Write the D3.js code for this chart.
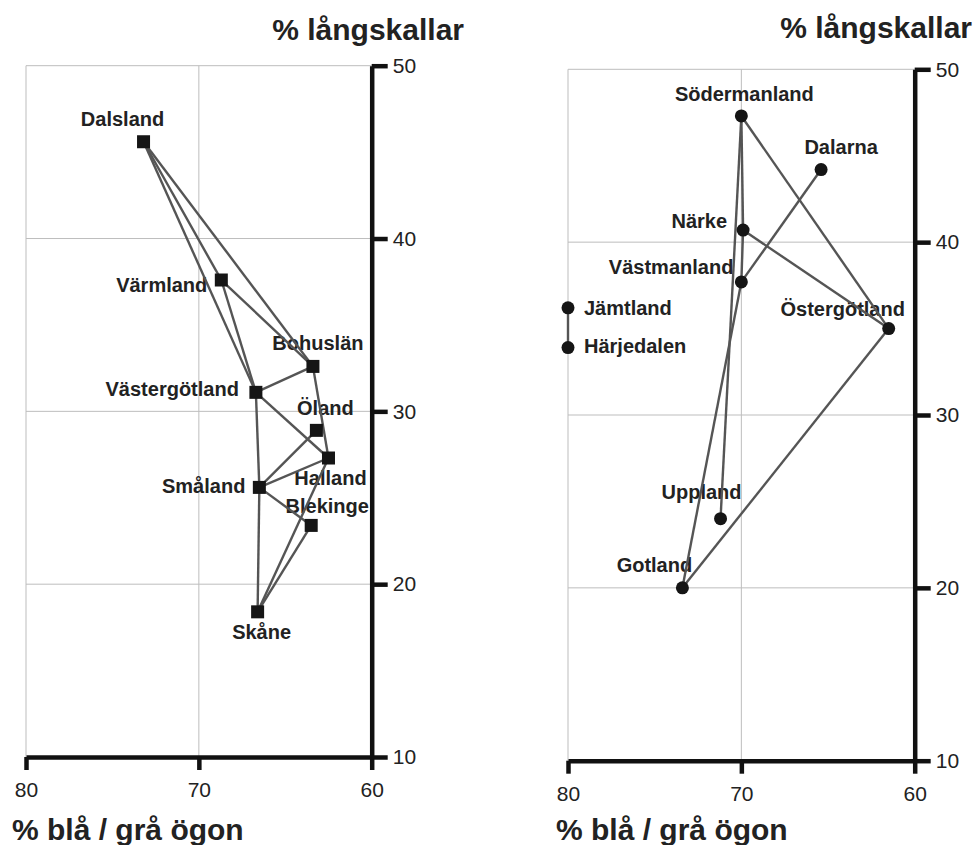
<!DOCTYPE html>
<html>
<head>
<meta charset="utf-8">
<script src="https://cdn.jsdelivr.net/npm/d3@7"></script>
<style>
  body { margin: 0; background: #fff; }
  svg { font-family: "Liberation Sans", Arial, sans-serif; }
  .grid line { stroke: #bdbdbd; stroke-width: 1; }
  .axis path, .axis line { stroke: #111; stroke-width: 4.5; }
  .axis text { font-family: "Liberation Sans", Arial, sans-serif; font-size: 21px; fill: #222; }
  .link { stroke: #555; stroke-width: 2.4; fill: none; }
  .mark { fill: #151515; }
  .lbl { font-size: 20px; font-weight: bold; fill: #222; }
  .title { font-size: 30px; font-weight: bold; fill: #222; }
</style>
</head>
<body>
<svg id="chart" width="976" height="845"></svg>
<script>
// x = % blå / grå ögon, y = % långskallar
var xTicks = [80, 70, 60];
var yTicks = [50, 40, 30, 20, 10];
var gridX = [80, 70];
var gridY = [50, 40, 30, 20];

var leftNames = ["Dalsland", "Värmland", "Bohuslän", "Västergötland", "Öland", "Halland", "Småland", "Blekinge", "Skåne"];
var leftBlue  = [73.2, 68.7, 63.4, 66.7, 63.2, 62.5, 66.5, 63.5, 66.6];
var leftLong  = [45.6, 37.6, 32.6, 31.1, 28.9, 27.3, 25.6, 23.4, 18.4];
var leftLinks = [
  ["Dalsland", "Värmland"], ["Dalsland", "Västergötland"], ["Dalsland", "Bohuslän"],
  ["Värmland", "Bohuslän"], ["Värmland", "Västergötland"],
  ["Västergötland", "Bohuslän"], ["Västergötland", "Halland"], ["Västergötland", "Småland"],
  ["Bohuslän", "Halland"],
  ["Småland", "Öland"], ["Småland", "Halland"], ["Småland", "Blekinge"], ["Småland", "Skåne"],
  ["Halland", "Skåne"], ["Blekinge", "Skåne"]
];

var rightNames = ["Södermanland", "Dalarna", "Närke", "Västmanland", "Jämtland", "Härjedalen", "Östergötland", "Uppland", "Gotland"];
var rightBlue  = [70.0, 65.4, 69.9, 70.0, 80.0, 80.0, 61.5, 71.2, 73.4];
var rightLong  = [47.3, 44.2, 40.7, 37.7, 36.2, 33.9, 35.0, 24.0, 20.0];
var rightLinks = [
  ["Södermanland", "Östergötland"], ["Södermanland", "Uppland"], ["Södermanland", "Närke"],
  ["Närke", "Västmanland"], ["Närke", "Östergötland"],
  ["Västmanland", "Dalarna"], ["Västmanland", "Gotland"],
  ["Östergötland", "Gotland"], ["Jämtland", "Härjedalen"]
];

// label placement, pixel offsets from the marker (anchor, dx, dy)
var labelPos = {
  "Dalsland": ["middle", -21, -16], "Värmland": ["end", -14, 12], "Bohuslän": ["middle", 5, -16],
  "Västergötland": ["end", -17, 4], "Öland": ["middle", 9, -15], "Halland": ["middle", 2, 27],
  "Småland": ["end", -14, 6], "Blekinge": ["middle", 16, -12], "Skåne": ["middle", 4, 27],
  "Södermanland": ["middle", 3, -15], "Dalarna": ["middle", 20, -16], "Närke": ["end", -16, -2],
  "Västmanland": ["end", -8, -8], "Jämtland": ["start", 16, 7], "Härjedalen": ["start", 16, 5],
  "Östergötland": ["middle", -46, -13], "Uppland": ["middle", -19, -20], "Gotland": ["middle", -28, -16]
};

var svg = d3.select("#chart");

function drawPanel(cfg) {
  var x = d3.scaleLinear().domain([80, 60]).range([cfg.x0, cfg.x1]),
      y = d3.scaleLinear().domain([10, 50]).range([cfg.y0, cfg.y1]);
  var g = svg.append("g");

  var pts = {};
  cfg.names.forEach(function(n, i) { pts[n] = {name: n, bx: cfg.blue[i], ly: cfg.long[i]}; });
  var data = cfg.names.map(function(n) { return pts[n]; });

  var grid = g.append("g").attr("class", "grid");
  grid.selectAll(".gx").data(gridX).enter().append("line")
      .attr("x1", function(d) { return x(d); }).attr("x2", function(d) { return x(d); })
      .attr("y1", y(50)).attr("y2", y(10));
  grid.selectAll(".gy").data(gridY).enter().append("line")
      .attr("y1", function(d) { return y(d); }).attr("y2", function(d) { return y(d); })
      .attr("x1", x(80)).attr("x2", x(60));

  g.append("g")
      .attr("class", "axis")
      .attr("transform", "translate(0," + y(10) + ")")
      .call(d3.axisBottom(x).tickValues(xTicks).tickSize(13).tickSizeOuter(0).tickPadding(12));

  g.append("g")
      .attr("class", "axis")
      .attr("transform", "translate(" + x(60) + ",0)")
      .call(d3.axisRight(y).tickValues(yTicks).tickSize(16).tickSizeOuter(0).tickPadding(5));

  g.selectAll(".lbl").data(data).enter().append("text")
      .attr("class", "lbl")
      .attr("text-anchor", function(d) { return labelPos[d.name][0]; })
      .attr("x", function(d) { return x(d.bx) + labelPos[d.name][1]; })
      .attr("y", function(d) { return y(d.ly) + labelPos[d.name][2]; })
      .text(function(d) { return d.name; });

  g.selectAll(".link").data(cfg.links).enter().append("line")
      .attr("class", "link")
      .attr("x1", function(d) { return x(pts[d[0]].bx); })
      .attr("y1", function(d) { return y(pts[d[0]].ly); })
      .attr("x2", function(d) { return x(pts[d[1]].bx); })
      .attr("y2", function(d) { return y(pts[d[1]].ly); });

  if (cfg.shape === "square") {
    g.selectAll(".mark").data(data).enter().append("rect")
        .attr("class", "mark")
        .attr("x", function(d) { return x(d.bx) - 6.5; })
        .attr("y", function(d) { return y(d.ly) - 6.5; })
        .attr("width", 13).attr("height", 13);
  } else {
    g.selectAll(".mark").data(data).enter().append("circle")
        .attr("class", "mark")
        .attr("cx", function(d) { return x(d.bx); })
        .attr("cy", function(d) { return y(d.ly); })
        .attr("r", 6.5);
  }

  g.append("text").attr("class", "title")
      .attr("text-anchor", "end")
      .attr("x", cfg.titleX).attr("y", cfg.titleY)
      .text("% långskallar");
  g.append("text").attr("class", "title")
      .attr("x", cfg.xTitleX).attr("y", 840)
      .text("% blå / grå ögon");
}

drawPanel({x0: 26, x1: 371.7, y0: 757, y1: 65.7, names: leftNames, blue: leftBlue, long: leftLong,
  links: leftLinks, shape: "square", titleX: 464, titleY: 40, xTitleX: 12});
drawPanel({x0: 568, x1: 914.7, y0: 760.7, y1: 69.3, names: rightNames, blue: rightBlue, long: rightLong,
  links: rightLinks, shape: "circle", titleX: 972, titleY: 38, xTitleX: 556});
</script>
</body>
</html>
